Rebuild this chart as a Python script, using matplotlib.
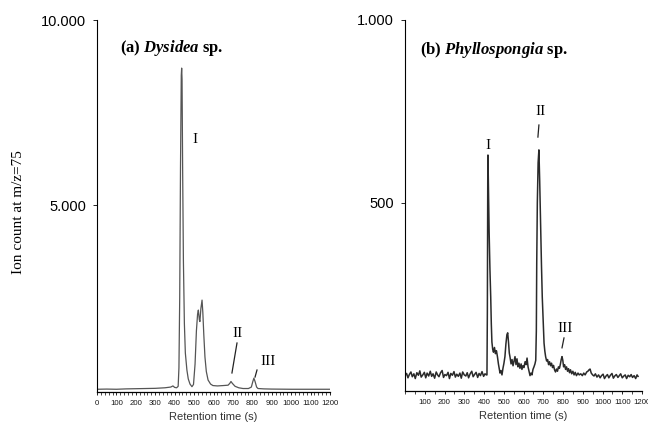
import numpy as np
import matplotlib
matplotlib.use("Agg")
import matplotlib.pyplot as plt
from matplotlib.ticker import MultipleLocator

plt.rcParams['mathtext.fontset'] = 'custom'
plt.rcParams['mathtext.it'] = 'Liberation Serif:bold:italic'
plt.rcParams['mathtext.rm'] = 'Liberation Serif:bold'

# (a) Dysidea sp. - retention time (s) and ion count
t_a = [0, 50, 100, 150, 200, 250, 300, 350, 380, 391, 400, 410, 418, 422, 426, 430,
       434, 436, 438, 441, 445, 450, 455, 463, 470, 479, 489, 497, 505, 512, 518, 522,
       527, 530, 535, 541, 545, 550, 556, 563, 572, 585, 597, 620, 650, 675, 684, 690,
       697, 711, 730, 752, 780, 795, 802, 808, 814, 822, 829, 860, 900, 1000, 1100, 1200]
ion_a = [20, 25, 20, 30, 35, 40, 45, 60, 80, 110, 70, 60, 100, 600, 2500, 6000,
         8500, 8700, 8400, 6000, 3500, 1800, 1000, 540, 300, 160, 90, 150, 700, 1600, 2050, 2160,
         1900, 1850, 2200, 2430, 2100, 1500, 890, 500, 270, 160, 120, 110, 120, 130, 180, 230,
         180, 100, 60, 40, 40, 80, 220, 320, 230, 80, 40, 30, 25, 20, 20, 20]

# (b) Phyllospongia sp.
t_b = [0, 8, 15, 22, 30, 37, 45, 52, 60, 68, 75, 82, 90, 98, 105, 112, 120, 128, 135, 142,
       150, 158, 165, 172, 180, 188, 195, 202, 210, 218, 225, 232, 240, 248, 255, 262, 270,
       278, 285, 292, 300, 308, 315, 322, 330, 338, 345, 352, 360, 368, 375, 382, 390, 398,
       405, 412,
       415, 417, 419, 420, 422, 426, 430, 434, 437, 440, 444, 448, 453, 458, 463, 468, 473,
       477, 481, 486, 491, 496, 501, 506, 511, 516, 520, 524, 528, 532, 537, 542, 547, 552,
       557, 562, 567, 572, 577, 582, 588, 592, 597, 602, 608, 613, 618, 623, 628, 633, 638,
       643, 648, 653, 658, 662, 665, 667, 670, 674, 678, 682, 687, 691, 695, 700, 704, 708,
       712, 717, 722, 727, 732, 737, 742, 747, 752, 757, 762, 767, 772, 777, 782, 787, 791,
       795, 799, 803, 808, 813, 818, 823, 828, 833, 838, 844, 850, 856, 862, 868, 876, 882,
       890, 898, 905, 912, 920, 926, 932, 937, 943, 950, 957, 964, 972, 980, 988, 995, 1003,
       1010, 1018, 1025, 1032, 1040, 1048, 1055, 1062, 1070, 1078, 1085, 1092, 1100, 1108,
       1115, 1122, 1130, 1138, 1145, 1152, 1160, 1168, 1175, 1180]
ion_b = [28, 34, 22, 31, 38, 25, 33, 20, 36, 29, 41, 24, 30, 37, 22, 35, 27, 40, 26, 33,
         21, 38, 30, 25, 36, 42, 23, 31, 28, 37, 20, 34, 29, 39, 24, 32, 26,
         35, 21, 38, 30, 27, 36, 22, 33, 40, 25, 31, 37, 23, 34, 28, 39, 26,
         33, 30,
         30, 200, 560, 631, 560, 420, 320, 243, 170, 120, 100, 92, 105, 88, 96, 80, 60,
         48, 35, 42, 30, 48, 62, 80, 115, 140, 145, 120, 90, 78, 60, 72, 55, 68,
         80, 58, 74, 52, 62, 48, 60, 45, 55, 50, 66, 58, 76, 52, 40, 28, 35,
         30, 45, 52, 60, 70, 150, 336, 500, 610, 645, 560, 426, 330, 243, 170, 117, 95,
         80, 68, 72, 58, 66, 55, 62, 50, 56, 44, 38, 46, 40, 52, 48, 60, 72,
         80, 70, 52, 58, 45, 52, 40, 47, 36, 44, 33, 40, 30, 37, 28, 35, 30,
         33, 28, 35, 30, 38, 40, 44, 46, 35, 30, 27, 33, 24, 30, 22, 28, 32,
         20, 27, 31, 22, 29, 34, 21, 27, 31, 23, 28, 33, 22, 27,
         30, 20, 29, 25, 31, 23, 28, 20, 30, 26]

xticks_a = [0, 100, 200, 300, 400, 500, 600, 700, 800, 900, 1000, 1100, 1200]
xticks_b = [100, 200, 300, 400, 500, 600, 700, 800, 900, 1000, 1100, 1200]

serif = 'Liberation Serif'
sans = 'Liberation Sans'

fig = plt.figure(figsize=(6.48, 4.33), dpi=100)
axa = fig.add_axes([97/648, 1-392/433, 233/648, 372/433])
axb = fig.add_axes([405/648, 1-391/433, 237/648, 371/433])

axa.plot(t_a, ion_a, color='#555555', lw=0.9)
axb.plot(t_b, ion_b, color='#2a2a2a', lw=1.1)

axa.set_xlim(0, 1200)
axa.set_ylim(-54, 10000)
axb.set_xlim(0, 1200)
axb.set_ylim(-14, 1000)

for ax, xt, yt, ylab in [(axa, xticks_a, [5000, 10000], ['5.000', '10.000']),
                         (axb, xticks_b, [500, 1000], ['500', '1.000'])]:
    for s in ['top', 'right']:
        ax.spines[s].set_visible(False)
    ax.spines['left'].set_linewidth(0.8)
    ax.spines['bottom'].set_linewidth(0.9)
    ax.set_xticks(xt)
    ax.set_xticklabels([str(v) for v in xt], fontsize=5.6, family=sans, color='#1a1a1a')
    ax.set_yticks(yt)
    ax.set_yticklabels(ylab, fontsize=10.5, family=sans, color='#000000')
    ax.tick_params(axis='x', length=2.5, width=0.6, pad=3)
    ax.tick_params(axis='y', length=3, width=0.6, pad=5)
    ax.tick_params(axis='x', which='minor', length=2, width=0.5)
    ax.set_xlabel('Retention time (s)', fontsize=8, family=sans, color='#333333', labelpad=4)

axa.xaxis.set_minor_locator(MultipleLocator(20))
axb.xaxis.set_minor_locator(MultipleLocator(50))

fig.text(19/648, 1-212/433, 'Ion count at m/z=75', rotation=90, ha='center', va='center',
         fontsize=11, family=serif)

# panel titles
axa.text(120/648, 1-48/433, r'(a) $\mathit{Dysidea}$ sp.', transform=fig.transFigure,
         fontsize=12, family=serif, fontweight='bold', va='center', ha='left')
axb.text(420/648, 1-50/433, r'(b) $\mathit{Phyllospongia}$ sp.', transform=fig.transFigure,
         fontsize=12, family=serif, fontweight='bold', va='center', ha='left')

# peak labels
axa.text(505, 6760, 'I', fontsize=11, family=serif, ha='center', va='center')
axa.text(726, 1540, 'II', fontsize=11, family=serif, ha='center', va='center')
axa.plot([721, 695], [1270, 460], color='#222222', lw=0.9)
axa.text(880, 757, 'III', fontsize=11, family=serif, ha='center', va='center')
axa.plot([824, 814], [540, 350], color='#222222', lw=0.9)

axb.text(420, 656, 'I', fontsize=11, family=serif, ha='center', va='center')
axb.text(684, 749, 'II', fontsize=11, family=serif, ha='center', va='center')
axb.plot([678, 673], [713, 680], color='#222222', lw=0.9)
axb.text(810, 158, 'III', fontsize=11, family=serif, ha='center', va='center')
axb.plot([805, 795], [131, 104], color='#222222', lw=0.9)

fig.savefig('out.png', dpi=100)
